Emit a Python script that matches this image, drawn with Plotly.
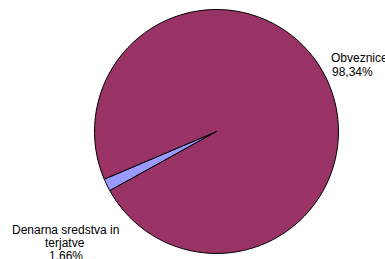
import plotly.graph_objects as go

# Data
labels = ["Denarna sredstva in terjatve", "Obveznice"]
values = [1.66, 98.34]
label_lines = [["Denarna sredstva in", "terjatve"], ["Obveznice"]]
colors = ["#9999FF", "#993366"]

W, H = 385, 259
cx, cy, r = 216.5, 131.5, 122

fig = go.Figure(go.Pie(
    labels=labels,
    values=values,
    sort=False,
    direction="clockwise",
    rotation=-119,
    marker=dict(colors=colors, line=dict(color="#000000", width=1)),
    textinfo="none",
    hoverinfo="label+percent",
    showlegend=False,
    domain=dict(x=[(cx - r) / W, (cx + r) / W],
                y=[(H - cy - r) / H, (H - cy + r) / H]),
))

def pct(v):
    return f"{v:.2f}".replace(".", ",") + "%"

# label placement (pixel centers of first line, line spacing, per-line x)
placements = [
    dict(xs=[65.5, 64.5, 66], y0=230, dy=13),
    dict(xs=[359, 352], y0=58.3, dy=13.4),
]

annotations = []
for lines, v, p in zip(label_lines, values, placements):
    all_lines = lines + [pct(v)]
    for i, t in enumerate(all_lines):
        x = p["xs"][i]
        y = p["y0"] + i * p["dy"]
        annotations.append(dict(
            text=t, x=x / W, y=1 - y / H, xref="paper", yref="paper",
            xanchor="center", yanchor="middle", showarrow=False,
            font=dict(family="Liberation Sans, Arial, sans-serif", size=12, color="#000000"),
        ))

fig.update_layout(
    width=W, height=H,
    margin=dict(l=0, r=0, t=0, b=0),
    paper_bgcolor="white",
    plot_bgcolor="white",
    annotations=annotations,
)

fig.write_html(
    "out.html",
    config={"displayModeBar": False},
    post_script="document.body.style.margin='0';document.body.style.overflow='hidden';",
)
